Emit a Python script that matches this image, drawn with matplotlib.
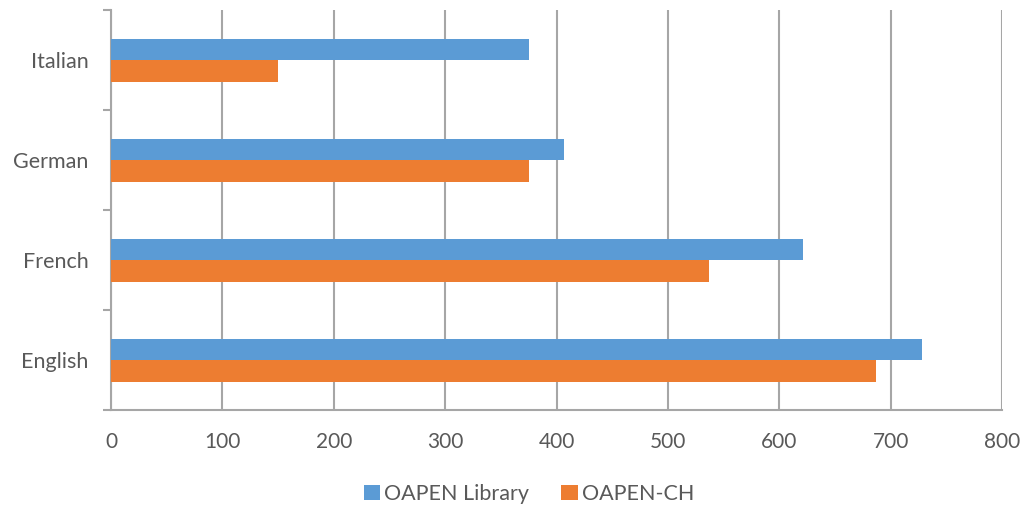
import matplotlib
matplotlib.use("Agg")
import matplotlib.pyplot as plt
import numpy as np

categories = ["English", "French", "German", "Italian"]
oapen_library = [728, 621, 407, 375]
oapen_ch = [687, 537, 375, 150]
xticks = [0, 100, 200, 300, 400, 500, 600, 700, 800]

plt.rcParams['font.family'] = ['Lato', 'DejaVu Sans']
fig = plt.figure(figsize=(10.25, 5.08), dpi=100)
ax = fig.add_axes([111/1025, 1-410/508, (1002-111)/1025, 400/508])

y = np.arange(len(categories))
h = 0.215
ax.barh(y + h/2, oapen_library, height=h, color='#5B9BD5', label='OAPEN Library', zorder=3)
ax.barh(y - h/2, oapen_ch, height=h, color='#ED7D31', label='OAPEN-CH', zorder=3)

ax.set_xlim(0, 800)
ax.set_ylim(-0.5, 3.5)
ax.set_xticks(xticks)
ax.set_xticklabels([str(v) for v in xticks])
ax.set_yticks(y)
ax.set_yticklabels(categories)
ax.set_yticks(np.arange(-0.5, 4.0, 1.0), minor=True)

ax.grid(axis='x', color='#A6A6A6', linewidth=1.5, zorder=0)
for s in ['top', 'right']:
    ax.spines[s].set_visible(False)
for s in ['left', 'bottom']:
    ax.spines[s].set_color('#A6A6A6')
    ax.spines[s].set_linewidth(1.5)

ax.tick_params(axis='x', length=0, pad=16, labelsize=15, labelcolor='#595959')
ax.tick_params(axis='y', which='major', length=0, pad=16, labelsize=15.5, labelcolor='#595959')
ax.tick_params(axis='y', which='minor', length=6, width=1.5, color='#A6A6A6')

ax.legend(loc='center', bbox_to_anchor=(529/1025, 1-494/508), bbox_transform=fig.transFigure,
          ncol=2, frameon=False, fontsize=15.5, labelcolor='#595959',
          handlelength=0.75, handleheight=0.75, handletextpad=0.2, columnspacing=1.5)

fig.savefig("out.png", dpi=100)
